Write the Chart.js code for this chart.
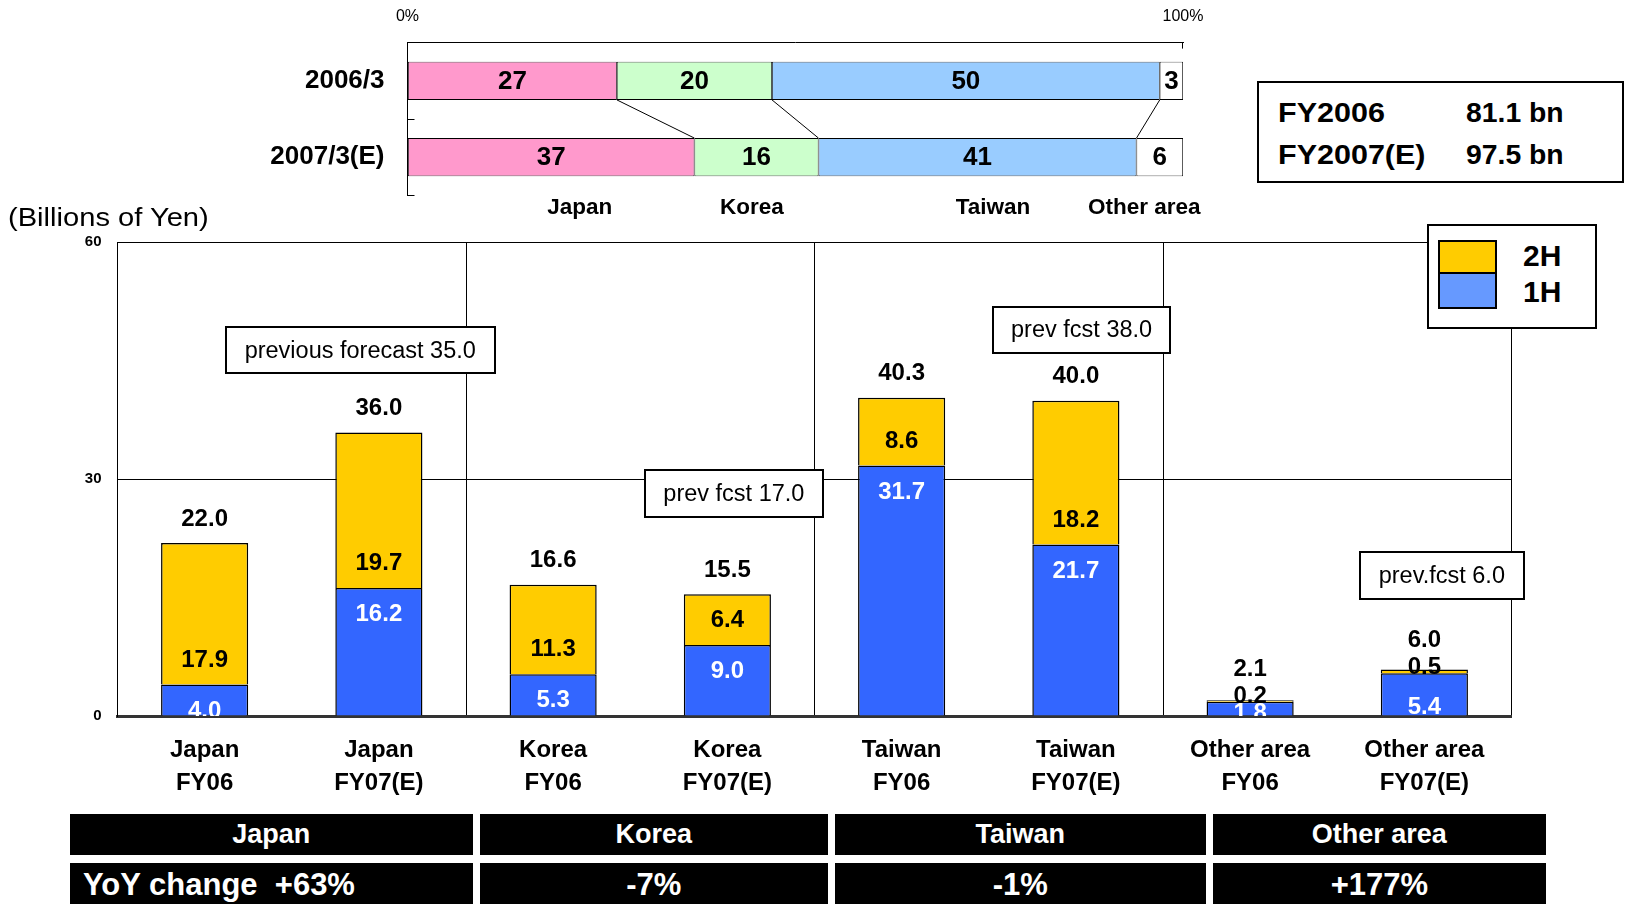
<!DOCTYPE html>
<html>
<head>
<meta charset="utf-8">
<title>Sales by region</title>
<script src="https://cdn.jsdelivr.net/npm/chart.js@4.4.1/dist/chart.umd.min.js"></script>
<style>
  html, body { margin: 0; padding: 0; background: #fff; }
  #page { position: relative; width: 1630px; height: 904px; overflow: hidden;
          font-family: "Liberation Sans", Arial, Helvetica, sans-serif; color: #000; }
  canvas { position: absolute; left: 0; }
  .txt { position: absolute; white-space: pre; }
  .box { position: absolute; box-sizing: border-box; border: 2px solid #000; background: #fff; }
  .cell { position: absolute; box-sizing: border-box; background: #000; color: #fff; font-weight: bold; white-space: pre; }
</style>
</head>
<body>
<div id="page">
  <canvas id="share" width="1630" height="240" style="top:0"></canvas>
  <canvas id="sales" width="1630" height="600" style="top:200px"></canvas>
</div>
<script>
// ---- Half-year sales by destination (billions of yen) ----
const regions = ['Japan', 'Korea', 'Taiwan', 'Other area'];
const periods = ['FY06', 'FY07(E)'];
const firstHalf  = [4.0, 16.2, 5.3, 9.0, 31.7, 21.7, 1.8, 5.4];
const secondHalf = [17.9, 19.7, 11.3, 6.4, 8.6, 18.2, 0.2, 0.5];
const fullYear   = [22.0, 36.0, 16.6, 15.5, 40.3, 40.0, 2.1, 6.0];
const yTicks = [0, 30, 60];

// ---- Regional share of sales (%) ----
const shareRows   = ['2006/3', '2007/3(E)'];
const shareJapan  = [27, 37];
const shareKorea  = [20, 16];
const shareTaiwan = [50, 41];
const shareOther  = [3, 6];
const shareTicks  = [0, 100];

// ---- Totals, forecasts, growth ----
const fyNames  = ['FY2006', 'FY2007(E)'];
const fyTotals = [81.1, 97.5];
const prevForecast = ['previous forecast 35.0', 'prev fcst 17.0', 'prev fcst 38.0', 'prev.fcst 6.0'];
const yoyChange = ['+63%', '-7%', '-1%', '+177%'];

const FONT = '"Liberation Sans", Arial, Helvetica, sans-serif';
Chart.defaults.font.family = FONT;
Chart.defaults.color = '#000';

const page = document.getElementById('page');
function addText(text, x, yc, size, opts = {}) {
  const d = document.createElement('div');
  d.className = 'txt';
  d.textContent = text;
  d.style.fontSize = size + 'px';
  d.style.lineHeight = size + 'px';
  d.style.top = (yc - size / 2) + 'px';
  if (opts.bold) d.style.fontWeight = 'bold';
  if (opts.color) d.style.color = opts.color;
  if (opts.align === 'center') {
    d.style.left = (x - 400) + 'px'; d.style.width = '800px'; d.style.textAlign = 'center';
  } else {
    d.style.left = x + 'px';
  }
  if (opts.sx) { d.style.transform = 'scaleX(' + opts.sx + ')'; d.style.transformOrigin = opts.align === 'center' ? '50% 50%' : '0 50%'; }
  page.appendChild(d);
  return d;
}
function addBox(x, y, w, h) {
  const b = document.createElement('div');
  b.className = 'box';
  Object.assign(b.style, { left: x + 'px', top: y + 'px', width: w + 'px', height: h + 'px' });
  page.appendChild(b);
  return b;
}

// ================= Share chart (100% stacked, horizontal) =================
const shareColors = ['#FF99CC', '#CCFFCC', '#99CCFF', '#FFFFFF'];
const shareSeries = [shareJapan, shareKorea, shareTaiwan, shareOther];

const shareDecor = {
  id: 'shareDecor',
  afterDatasetsDraw(chart) {
    const ctx = chart.ctx;
    const xs = chart.scales.x, ys = chart.scales.y;
    ctx.save();
    // connector lines between the two rows
    ctx.strokeStyle = '#000';
    ctx.lineWidth = 1;
    for (let k = 0; k < chart.data.datasets.length - 1; k++) {
      const m = chart.getDatasetMeta(k).data;
      ctx.beginPath();
      ctx.moveTo(m[0].x, m[0].y + m[0].height / 2);
      ctx.lineTo(m[1].x, m[1].y - m[1].height / 2);
      ctx.stroke();
    }
    // inward tick marks on the category axis and at the 100% end
    ctx.beginPath();
    for (let i = 1; i <= ys.ticks.length; i++) {
      const yb = i < ys.ticks.length ? (ys.getPixelForTick(i - 1) + ys.getPixelForTick(i)) / 2 : ys.bottom;
      const yy = Math.round(yb) + 0.5;
      ctx.moveTo(ys.right, yy); ctx.lineTo(ys.right + 7, yy);
    }
    const xr = Math.round(xs.right) - 0.5;
    ctx.moveTo(xr, xs.bottom); ctx.lineTo(xr, xs.bottom + 6);
    ctx.stroke();
    // share values inside the segments
    ctx.font = 'bold 26px ' + FONT;
    ctx.fillStyle = '#000';
    ctx.textAlign = 'center';
    ctx.textBaseline = 'middle';
    chart.data.datasets.forEach((ds, k) => {
      chart.getDatasetMeta(k).data.forEach((bar, i) => {
        ctx.fillText(String(ds.data[i]), (bar.x + bar.base) / 2, bar.y + 1);
      });
    });
    ctx.restore();
  }
};

const shareChart = new Chart(document.getElementById('share'), {
  type: 'bar',
  data: {
    labels: shareRows,
    datasets: regions.map((r, k) => ({
      label: r,
      data: shareSeries[k],
      backgroundColor: shareColors[k],
      borderColor: '#000',
      borderWidth: 0.8,
      borderSkipped: false
    }))
  },
  options: {
    indexAxis: 'y',
    responsive: false,
    animation: false,
    events: [],
    layout: { padding: { left: 0, top: 0, right: 447, bottom: 44.6 } },
    datasets: { bar: { categoryPercentage: 1, barPercentage: 0.5 } },
    plugins: { legend: { display: false }, tooltip: { enabled: false } },
    scales: {
      x: {
        position: 'top', stacked: true, min: 0, max: 100,
        afterBuildTicks: s => { s.ticks = shareTicks.map(v => ({ value: v })); },
        ticks: { callback: v => v + '%', font: { size: 16 }, color: '#000', padding: 16, maxRotation: 0 },
        grid: { drawOnChartArea: false, drawTicks: false },
        border: { color: '#000', width: 1 },
        afterFit: s => { s.height = 42.6; }
      },
      y: {
        stacked: true,
        ticks: { font: { size: 26, weight: 'bold' }, color: '#000', padding: 23 },
        grid: { drawOnChartArea: false, drawTicks: false },
        border: { color: '#000', width: 1 },
        afterFit: s => { s.width = 407.5; }
      }
    }
  },
  plugins: [shareDecor]
});

// region names under the share bars (positions in % of the share axis)
const regionLabelAt = [22.2, 44.4, 75.5, 95.0];
regions.forEach((r, k) => {
  addText(r, shareChart.scales.x.getPixelForValue(regionLabelAt[k]), 207, 22.5, { bold: true, align: 'center' });
});

// ================= Half-year sales chart (stacked columns) =================
const barLabels = {
  id: 'barLabels',
  afterDatasetsDraw(chart) {
    const { ctx, chartArea: a } = chart;
    const m1 = chart.getDatasetMeta(0).data;
    const m2 = chart.getDatasetMeta(1).data;
    ctx.save();
    ctx.beginPath();
    ctx.rect(a.left, a.top, a.right - a.left, a.bottom - a.top);
    ctx.clip();
    ctx.font = 'bold 24px ' + FONT;
    ctx.textAlign = 'center';
    ctx.textBaseline = 'middle';
    m2.forEach((bar, i) => {
      const low = m1[i];
      const h1 = low.base - low.y;
      const h2 = bar.base - bar.y;
      // 2H value sits at the base of its segment; a thin segment puts it just above the seam
      const thin = h2 < 28;
      const y2 = bar.base - (thin ? 5.5 : 24.5);
      // 1H value just inside the top of its segment, pushed down when the 2H label is crowded onto it
      const y1 = thin ? Math.min(low.base - 2, y2 + 40) : low.y + Math.min(26.5, h1 - 2);
      // full-year total above the stack, kept clear of the 2H value
      const yt = Math.min(bar.y - 24, y2 - 27);
      ctx.fillStyle = '#fff';
      ctx.fillText(firstHalf[i].toFixed(1), low.x, y1);
      ctx.fillStyle = '#000';
      ctx.fillText(secondHalf[i].toFixed(1), bar.x, y2);
      ctx.fillText(fullYear[i].toFixed(1), bar.x, yt);
    });
    ctx.restore();
  }
};

const categoryLabels = [];
regions.forEach(r => periods.forEach(p => categoryLabels.push([r, p])));

const salesChart = new Chart(document.getElementById('sales'), {
  type: 'bar',
  data: {
    labels: categoryLabels,
    datasets: [
      { label: '1H', data: firstHalf, backgroundColor: '#3366FF', borderColor: '#000', borderWidth: 1.5, legendColor: '#6699FF' },
      { label: '2H', data: secondHalf, backgroundColor: '#FFCC00', borderColor: '#000', borderWidth: 1.5, legendColor: '#FFCC00' }
    ]
  },
  options: {
    responsive: false,
    animation: false,
    events: [],
    layout: { padding: { left: 0, top: 42, right: 118.5, bottom: 0 } },
    datasets: { bar: { categoryPercentage: 1, barPercentage: 0.5 } },
    plugins: { legend: { display: false }, tooltip: { enabled: false } },
    scales: {
      x: {
        stacked: true,
        z: 1,
        grid: {
          offset: true,
          drawTicks: false,
          lineWidth: 1,
          // a divider between regions (every second category boundary)
          color: c => (c.index === undefined || c.index % 2 === 0) ? '#000' : 'rgba(0,0,0,0)'
        },
        border: { color: '#333', width: 3 },
        ticks: { font: { size: 24, weight: 'bold', lineHeight: 1.375 }, color: '#000', padding: 17.5, autoSkip: false, maxRotation: 0 },
        afterFit: s => { s.height = 84; }
      },
      y: {
        stacked: true, min: 0, max: 60,
        afterBuildTicks: s => { s.ticks = yTicks.map(v => ({ value: v })); },
        grid: { color: '#000', lineWidth: 1, drawTicks: false },
        border: { color: '#000', width: 1 },
        ticks: { font: { size: 15, weight: 'bold' }, color: '#000', padding: 16 },
        afterFit: s => { s.width = 117.5; }
      }
    }
  },
  plugins: [barLabels]
});

// unit caption
addText('(Billions of Yen)', 8, 217, 26, { sx: 1.12 });

// legend box (2H above 1H)
addBox(1427, 223.5, 170, 105);
const legendSets = salesChart.data.datasets.slice().reverse();
legendSets.forEach((ds, k) => {
  const sw = document.createElement('div');
  Object.assign(sw.style, {
    position: 'absolute', left: '1437.7px', top: (240 + k * 34.4) + 'px', width: '59px', height: '34.4px',
    boxSizing: 'border-box', border: '2px solid #000', background: ds.legendColor
  });
  if (k > 0) sw.style.borderTopWidth = '0';
  page.appendChild(sw);
  addText(ds.label, 1523, 256 + k * 36, 30, { bold: true });
});

// previous-forecast callouts
const calloutRects = [[224.5, 326.4, 271.5, 47.8], [643.5, 468.8, 180.8, 48.9], [991.7, 305.6, 179.8, 48.9], [1358.7, 551, 166.3, 48.8]];
prevForecast.forEach((t, k) => {
  const [x, y, w, h] = calloutRects[k];
  addBox(x, y, w, h);
  addText(t, x + w / 2, y + h / 2, 23.5, { align: 'center' });
});

// annual totals box
addBox(1257, 81, 367, 102);
fyNames.forEach((n, k) => {
  const yc = 113 + k * 42;
  addText(n, 1277.5, yc, 27, { bold: true, sx: 1.13 });
  addText(fyTotals[k].toFixed(1) + ' bn', 1466, yc, 27, { bold: true, sx: 1.05 });
});

// growth table
const colX = [[69.6, 403.4], [480, 347.5], [834.7, 371.1], [1213, 332.7]];
regions.forEach((r, k) => {
  const [x, w] = colX[k];
  const c1 = document.createElement('div');
  c1.className = 'cell';
  Object.assign(c1.style, { left: x + 'px', top: '814px', width: w + 'px', height: '40.5px',
    fontSize: '27px', lineHeight: '40.5px', textAlign: 'center' });
  c1.textContent = r;
  page.appendChild(c1);
  const c2 = document.createElement('div');
  c2.className = 'cell';
  Object.assign(c2.style, { left: x + 'px', top: '862.8px', width: w + 'px', height: '46px',
    fontSize: '31px', lineHeight: '44px', textAlign: k === 0 ? 'left' : 'center', paddingLeft: k === 0 ? '13.4px' : '0' });
  c2.textContent = k === 0 ? 'YoY change  ' + yoyChange[k] : yoyChange[k];
  page.appendChild(c2);
});
</script>
</body>
</html>
